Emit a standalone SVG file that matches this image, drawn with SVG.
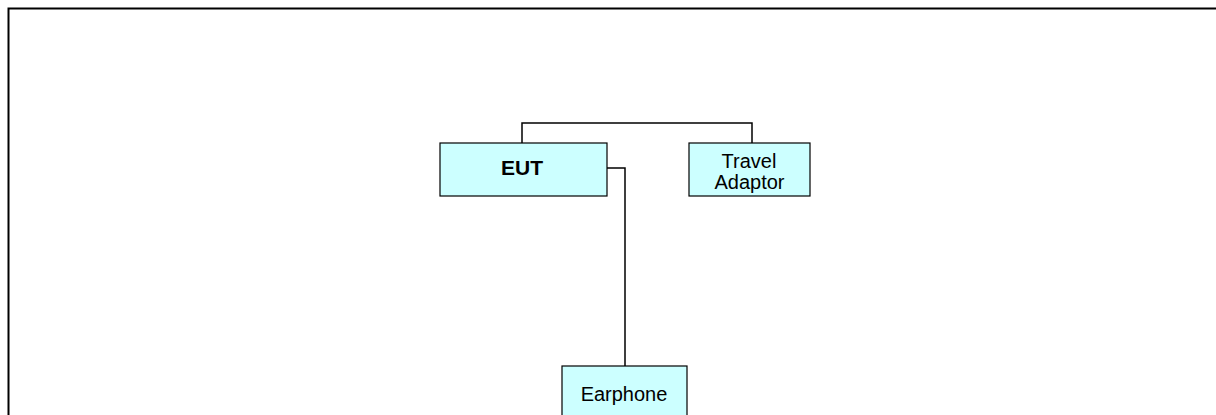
<svg xmlns="http://www.w3.org/2000/svg" width="1216" height="415" viewBox="0 0 1216 415">
<style>
.box{fill:#ccffff;stroke:#000;stroke-width:1.2}
.wire{fill:none;stroke:#000;stroke-width:1.5}
.t{font-family:"Liberation Sans",Arial,sans-serif;font-size:20px;fill:#000;text-anchor:middle}
.b{font-weight:bold;font-size:21px}
</style>
<rect x="0" y="0" width="1216" height="415" fill="#fff"/>
<path d="M8.5,430 V8.5 H1230" fill="none" stroke="#000" stroke-width="2"/>
<g id="connectors">
<path class="wire" d="M522,143 V123 H752 V143"/>
<path class="wire" d="M607,168 H625 V366"/>
</g>
<g id="eut">
<rect class="box" x="440" y="143" width="167" height="53"/>
<text class="t b" x="522" y="175">EUT</text>
</g>
<g id="travel-adaptor">
<rect class="box" x="689" y="143" width="121" height="53"/>
<text class="t" x="749" y="168">Travel</text>
<text class="t" x="749.5" y="189">Adaptor</text>
</g>
<g id="earphone">
<rect class="box" x="562" y="366" width="125" height="60"/>
<text class="t" x="624" y="401">Earphone</text>
</g>
</svg>
